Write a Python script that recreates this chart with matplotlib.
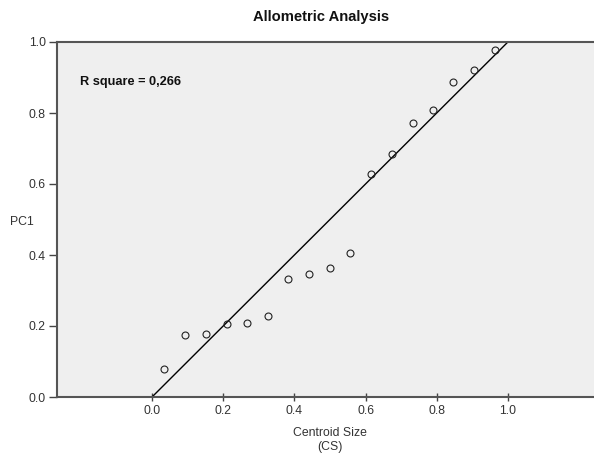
import matplotlib.pyplot as plt
import numpy as np

# centroid size vs PC1
cs = [0.035, 0.093, 0.151, 0.210, 0.267, 0.326, 0.383, 0.441, 0.500, 0.557,
      0.615, 0.675, 0.734, 0.790, 0.846, 0.904, 0.963]
pc1 = [0.078, 0.175, 0.177, 0.205, 0.208, 0.229, 0.331, 0.347, 0.364, 0.406,
       0.627, 0.684, 0.773, 0.809, 0.886, 0.922, 0.978]
fit_slope = 1.0
fit_x = [0.0, 1.05]
r_square = "0,266"
ticks = [0.0, 0.2, 0.4, 0.6, 0.8, 1.0]
tick_labels = ["0.0", "0.2", "0.4", "0.6", "0.8", "1.0"]

plt.rcParams['font.family'] = ['Liberation Sans', 'DejaVu Sans']

fig = plt.figure(figsize=(5.94, 4.59), dpi=100)
ax = fig.add_axes([57 / 594, 62 / 459, 537 / 594, 355 / 459])
ax.set_facecolor('#efefef')

ax.plot(fit_x, [fit_slope * v for v in fit_x], color='black', linewidth=1.0, zorder=2)
ax.plot(cs, pc1, linestyle='none', marker='o', markersize=5, markerfacecolor='none',
        markeredgecolor='#222222', markeredgewidth=0.8, zorder=3)

ax.set_xlim(-0.267, 1.242)
ax.set_ylim(0.0, 1.0)
ax.set_xticks(ticks)
ax.set_xticklabels(tick_labels)
ax.set_yticks(ticks)
ax.set_yticklabels(tick_labels)
ax.tick_params(axis='y', direction='out', length=6, width=1, color='#444444',
               labelsize=8.8, labelcolor='#333333', pad=2)
ax.tick_params(axis='x', direction='inout', length=6, width=1, color='#444444',
               labelsize=8.8, labelcolor='#333333', pad=3)

for side in ['left', 'bottom', 'top']:
    ax.spines[side].set_color('#555555')
    ax.spines[side].set_linewidth(1.5)
ax.spines['right'].set_visible(False)

ax.text(-0.202, 0.887, "R square = " + r_square, fontsize=9.2, fontweight='bold',
        va='center', ha='left', color='#111111')

fig.text(321 / 594, 1 - 17 / 459, "Allometric Analysis", fontsize=10.6, fontweight='bold',
         ha='center', va='center', color='#111111')
fig.text(22 / 594, 1 - 222 / 459, "PC1", fontsize=8.8, ha='center', va='center', color='#333333')
fig.text(330 / 594, 1 - 440 / 459, "Centroid Size\n(CS)", fontsize=8.8, ha='center',
         va='center', color='#333333', linespacing=1.3)

fig.savefig('out.png', dpi=100, facecolor='white')
